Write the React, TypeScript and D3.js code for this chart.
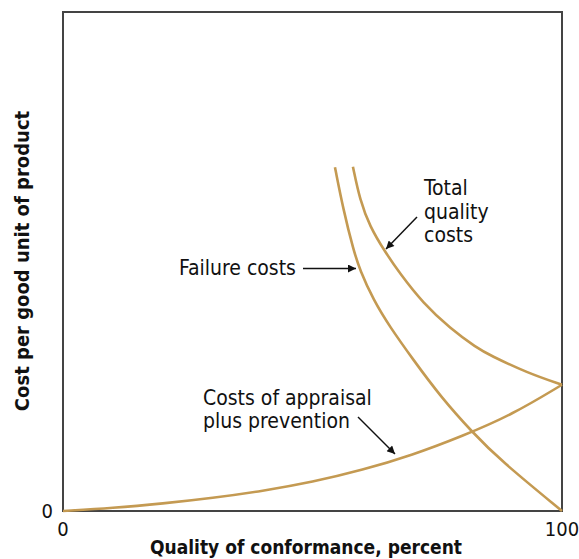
import React, { useRef, useEffect } from "react";
import * as d3 from "d3";

// values (x: quality of conformance %, y: cost, 0..100 scale)
const appraisalX = [0, 10, 20, 30, 40, 50, 60, 70, 80, 90, 100];
const appraisalY = [0, 0.6, 1.5, 2.6, 4.0, 5.8, 8.2, 11.2, 15.0, 19.3, 25.3];

const failureX = [54.5, 56.2, 58.2, 59.5, 62.2, 65.5, 70.2, 75.6, 82.2, 87.6, 100];
const failureY = [68.9, 60.3, 52.3, 48.3, 42.3, 36.9, 30.3, 23.0, 15.6, 10.2, 0];

const totalX = [58.1, 59.5, 61.5, 64.5, 67.5, 72.2, 77.6, 82.9, 85.6, 93.0, 100];
const totalY = [69.0, 62.3, 57.0, 52.0, 47.6, 41.6, 36.6, 32.7, 31.2, 27.7, 25.3];

const xTicks = ["0", "100"];
const yTicks = ["0"];

const xTitle = "Quality of conformance, percent";
const yTitle = "Cost per good unit of product";

const App = () => {
  const ref = useRef<SVGSVGElement>(null);

  useEffect(() => {
    const svg = d3.select(ref.current);
    svg.selectAll("*").remove();

    const width = 579;
    const height = 559;
    const margin = { top: 12, right: 17, bottom: 48, left: 63 };
    const font = "'DejaVu Sans Condensed', 'DejaVu Sans', sans-serif";
    const gold = "#c49a52";

    const x = d3
      .scaleLinear()
      .domain([0, 100])
      .range([margin.left, width - margin.right]);
    const y = d3
      .scaleLinear()
      .domain([0, 100])
      .range([height - margin.bottom, margin.top]);

    svg
      .append("defs")
      .append("marker")
      .attr("id", "head")
      .attr("viewBox", "0 0 10 10")
      .attr("refX", 10)
      .attr("refY", 5)
      .attr("markerWidth", 11)
      .attr("markerHeight", 8)
      .attr("markerUnits", "userSpaceOnUse")
      .attr("orient", "auto")
      .append("path")
      .attr("d", "M0,0 L10,5 L0,10 Z")
      .attr("fill", "#111");

    // frame
    svg
      .append("rect")
      .attr("x", x(0))
      .attr("y", y(100))
      .attr("width", x(100) - x(0))
      .attr("height", y(0) - y(100))
      .attr("fill", "none")
      .attr("stroke", "#444")
      .attr("stroke-width", 2);

    // basis curve smooths out small reading errors between points
    const line = d3
      .line<[number, number]>()
      .x((d) => x(d[0]))
      .y((d) => y(d[1]))
      .curve(d3.curveBasis);

    const series = [
      appraisalX.map((v, i) => [v, appraisalY[i]] as [number, number]),
      failureX.map((v, i) => [v, failureY[i]] as [number, number]),
      totalX.map((v, i) => [v, totalY[i]] as [number, number]),
    ];

    svg
      .selectAll(".curve")
      .data(series)
      .enter()
      .append("path")
      .attr("class", "curve")
      .attr("d", (d) => line(d))
      .attr("fill", "none")
      .attr("stroke", gold)
      .attr("stroke-width", 2.6);

    // tick labels
    svg
      .selectAll(".xtick")
      .data(xTicks)
      .enter()
      .append("text")
      .attr("x", (d) => x(+d))
      .attr("y", height - margin.bottom + 25)
      .attr("text-anchor", "middle")
      .attr("font-family", font)
      .attr("font-size", 20)
      .attr("fill", "#111")
      .text((d) => d);

    svg
      .selectAll(".ytick")
      .data(yTicks)
      .enter()
      .append("text")
      .attr("x", margin.left - 10)
      .attr("y", (d) => y(+d) + 7)
      .attr("text-anchor", "end")
      .attr("font-family", font)
      .attr("font-size", 20)
      .attr("fill", "#111")
      .text((d) => d);

    // axis titles
    svg
      .append("text")
      .attr("x", 306)
      .attr("y", 554)
      .attr("text-anchor", "middle")
      .attr("font-family", font)
      .attr("font-weight", "bold")
      .attr("font-size", 19)
      .attr("fill", "#111")
      .text(xTitle);

    svg
      .append("text")
      .attr("transform", "translate(29,261) rotate(-90)")
      .attr("text-anchor", "middle")
      .attr("font-family", font)
      .attr("font-weight", "bold")
      .attr("font-size", 20)
      .attr("fill", "#111")
      .text(yTitle);

    // annotations
    const label = (lines: string[], lx: number, ly: number, lh: number) => {
      lines.forEach((s, i) => {
        svg
          .append("text")
          .attr("x", lx)
          .attr("y", ly + i * lh)
          .attr("font-family", font)
          .attr("font-size", 21)
          .attr("fill", "#111")
          .text(s);
      });
    };
    label(["Failure costs"], 179, 275, 0);
    label(["Total", "quality", "costs"], 424, 195, 23.5);
    label(["Costs of appraisal", "plus prevention"], 203, 405, 22.5);

    const arrow = (x1: number, y1: number, x2: number, y2: number) => {
      svg
        .append("line")
        .attr("x1", x1)
        .attr("y1", y1)
        .attr("x2", x2)
        .attr("y2", y2)
        .attr("stroke", "#111")
        .attr("stroke-width", 1.5)
        .attr("marker-end", "url(#head)");
    };
    arrow(303, 268.5, 356, 268.5);
    arrow(417, 217, 386, 249);
    arrow(358, 417, 395, 454);
  }, []);

  return (
    <svg
      ref={ref}
      width={579}
      height={559}
      style={{ position: "absolute", left: 0, top: 0 }}
    />
  );
};

export default App;
